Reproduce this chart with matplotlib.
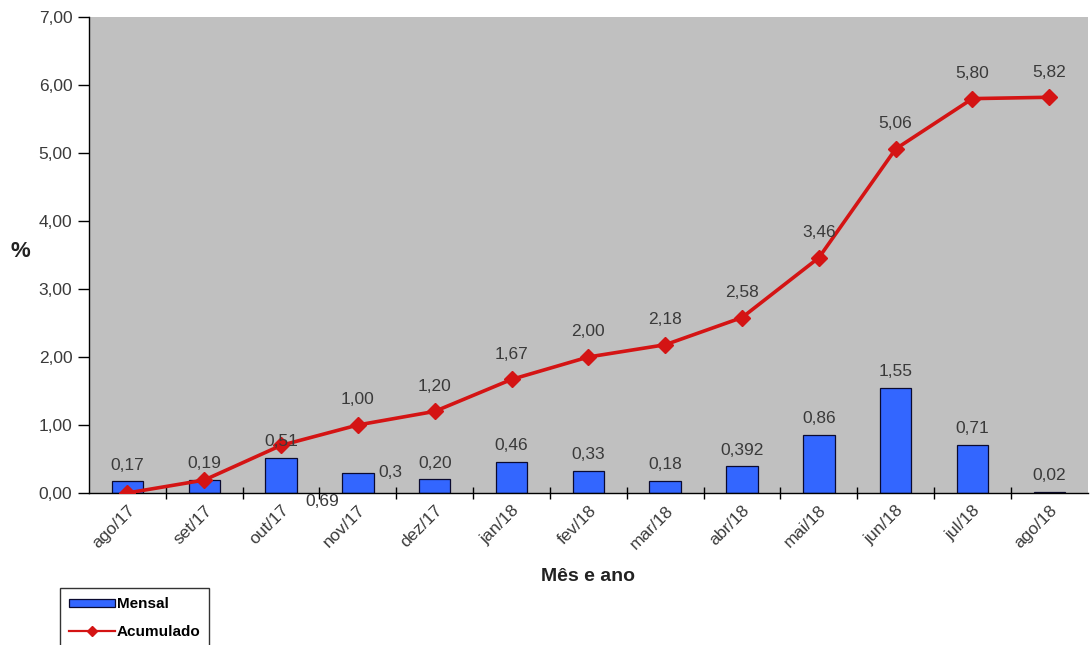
import matplotlib
matplotlib.use("Agg")
import matplotlib.pyplot as plt
import numpy as np
from matplotlib.lines import Line2D
from matplotlib.patches import Patch

plt.rcParams['font.family'] = ['Liberation Sans', 'DejaVu Sans']

meses = ['ago/17', 'set/17', 'out/17', 'nov/17', 'dez/17', 'jan/18', 'fev/18',
         'mar/18', 'abr/18', 'mai/18', 'jun/18', 'jul/18', 'ago/18']
mensal = [0.17, 0.19, 0.51, 0.30, 0.20, 0.46, 0.33, 0.18, 0.392, 0.86, 1.55, 0.71, 0.02]
rot_mensal = ['0,17', '0,19', '0,51', '0,3', '0,20', '0,46', '0,33', '0,18',
              '0,392', '0,86', '1,55', '0,71', '0,02']
acumulado = [0.00, 0.19, 0.70, 1.00, 1.20, 1.67, 2.00, 2.18, 2.58, 3.46, 5.06, 5.80, 5.82]
rot_acum = ['', '', '', '1,00', '1,20', '1,67', '2,00', '2,18', '2,58', '3,46',
            '5,06', '5,80', '5,82']

cinza = '#c0c0c0'
azul = '#3366ff'
vermelho = '#d41414'
txt = '#3a3a3a'
fs = 12.5

fig = plt.figure(figsize=(10.91, 6.45), dpi=100)
ax = fig.add_axes([0.0816, 0.2357, 0.9154, 0.7379])
ax.set_facecolor(cinza)

x = np.arange(len(meses))
ax.bar(x, mensal, width=0.41, color=azul, edgecolor='#0a0a30', linewidth=0.9, zorder=2)
ax.plot(x, acumulado, color=vermelho, lw=2.6, marker='D', ms=8, zorder=3)

# rotulos das barras
for i, (v, s) in enumerate(zip(mensal, rot_mensal)):
    if s == '0,3':
        ax.text(i + 0.26, v, s, ha='left', va='center', fontsize=fs, color=txt, zorder=4)
    else:
        ax.text(i, v + 0.24, s, ha='center', va='center', fontsize=fs, color=txt, zorder=4)
ax.text(3 - 0.47, -0.12, '0,69', ha='center', va='center', fontsize=fs, color=txt, zorder=4)

# rotulos do acumulado
for i, (v, s) in enumerate(zip(acumulado, rot_acum)):
    if s:
        ax.text(i, v + 0.37, s, ha='center', va='center', fontsize=fs, color=txt, zorder=4)

ax.set_xlim(-0.5, len(meses) - 0.5)
ax.set_ylim(0, 7)
ax.set_yticks(np.arange(0, 8, 1))
ax.set_yticklabels([f'{v:.2f}'.replace('.', ',') for v in range(8)],
                   fontsize=fs, color=txt)
ax.tick_params(axis='y', length=8, width=1, direction='out', pad=4)

ax.set_xticks(np.arange(0.5, len(meses) - 0.5, 1))
ax.set_xticklabels([])
ax.tick_params(axis='x', which='major', length=8, width=1, direction='inout')
ax.set_xticks(x, minor=True)
ax.set_xticklabels(meses, minor=True, rotation=45, ha='right', rotation_mode='anchor',
                   fontsize=fs, color=txt)
ax.tick_params(axis='x', which='minor', length=0, pad=7)

for s in ['top', 'right']:
    ax.spines[s].set_visible(False)
for s in ['left', 'bottom']:
    ax.spines[s].set_color('black')
    ax.spines[s].set_linewidth(1)

ax.set_xlabel('Mês e ano', fontsize=14, fontweight='bold', color='#222222', labelpad=12)
fig.text(20 / 1091, 1 - 252 / 645, '%', fontsize=16, fontweight='bold',
         color='#222222', ha='center', va='center')

handles = [Patch(facecolor=azul, edgecolor='#0a0a30', linewidth=0.9),
           Line2D([0], [0], color=vermelho, lw=1.6, marker='D', ms=5)]
leg = fig.legend(handles, ['Mensal', 'Acumulado'], loc='upper left',
                 bbox_to_anchor=(60 / 1091, 1 - 588 / 645), frameon=True, fancybox=False,
                 prop={'weight': 'bold', 'size': 11}, borderpad=0.6,
                 handlelength=3.0, handleheight=0.45, labelspacing=0.9, handletextpad=0.1,
                 borderaxespad=0)
leg.get_frame().set_edgecolor('black')
leg.get_frame().set_linewidth(1)

fig.savefig('out.png', dpi=100)
